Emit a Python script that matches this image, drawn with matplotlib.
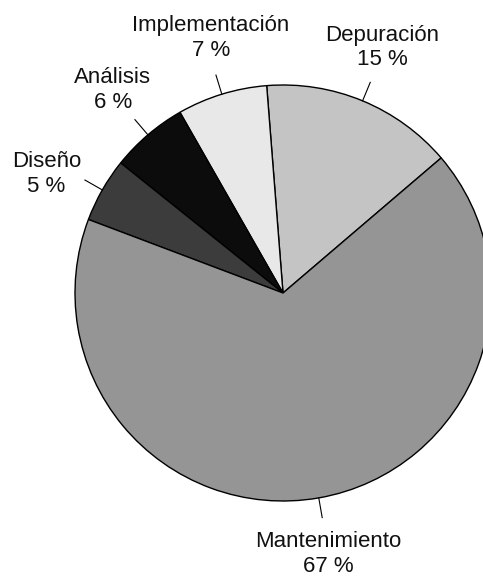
import numpy as np
import matplotlib.pyplot as plt

# Distribución del esfuerzo en el ciclo de vida del software
fases = ["Depuración", "Implementación", "Análisis", "Diseño", "Mantenimiento"]
porcentajes = [15, 7, 6, 5, 67]
colores = ["#c4c4c4", "#e8e8e8", "#0c0c0c", "#3c3c3c", "#959595"]
# pequeño giro (grados) de cada etiqueta respecto al centro de su sector
giro = [0.5, -1.3, -0.5, 3, 0]

W, H = 483, 579
fig = plt.figure(figsize=(W / 100, H / 100), dpi=100)
ax = fig.add_axes([0, 0, 1, 1])

cx, cy, R = 283, H - 293, 208
wedges, _ = ax.pie(porcentajes, colors=colores, startangle=40.5, counterclock=True,
                   center=(cx, cy), radius=R,
                   wedgeprops=dict(edgecolor="black", linewidth=1.0))

# etiquetas con una pequeña línea guía radial
for w, nombre, p, g in zip(wedges, fases, porcentajes, giro):
    mid = np.deg2rad((w.theta1 + w.theta2) / 2)
    ang = np.deg2rad((w.theta1 + w.theta2) / 2 + g)
    ax.plot([cx + R * np.cos(mid), cx + 228 * np.cos(mid)],
            [cy + R * np.sin(mid), cy + 228 * np.sin(mid)],
            color="black", lw=0.8)
    ax.text(cx + 265 * np.cos(ang), cy + 265 * np.sin(ang), f"{nombre}\n{p} %",
            ha="center", va="center", fontsize=16, linespacing=1.2,
            family="Liberation Sans", color="#111111")

ax.set_xlim(0, W)
ax.set_ylim(0, H)
ax.set_aspect("equal")
ax.axis("off")

fig.savefig("out.png", dpi=100)
